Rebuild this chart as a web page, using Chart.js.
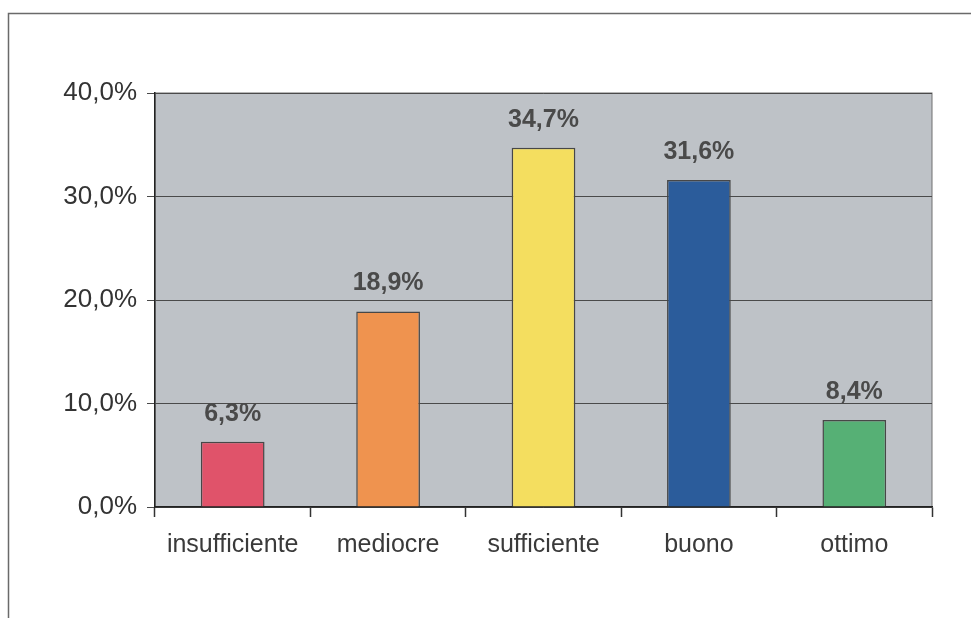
<!DOCTYPE html>
<html>
<head>
<meta charset="utf-8">
<script src="https://cdn.jsdelivr.net/npm/chart.js@4/dist/chart.umd.min.js"></script>
<style>
  html, body { margin: 0; padding: 0; background: #fff; }
  #wrap { width: 971px; height: 618px; }
</style>
</head>
<body>
<div id="wrap"><canvas id="chartVoti" width="971" height="618"></canvas></div>
<script>
const categorie = ["insufficiente", "mediocre", "sufficiente", "buono", "ottimo"];
const percentuali = [6.3, 18.9, 34.7, 31.6, 8.4];
const etichette = ["6,3%", "18,9%", "34,7%", "31,6%", "8,4%"];
const colori = ["#e0536a", "#ef934f", "#f4de5f", "#2b5c9b", "#56b075"];

// sfondo grigio dell'area del grafico + cornice esterna
const sfondo = {
  id: "sfondo",
  beforeDraw(chart) {
    const { ctx, chartArea: a } = chart;
    ctx.save();
    ctx.strokeStyle = "#6a6a6a";
    ctx.lineWidth = 1.5;
    ctx.strokeRect(8.5, 13.5, 2000, 2000);
    ctx.fillStyle = "#bec2c7";
    ctx.fillRect(a.left, a.top, a.right - a.left, a.bottom - a.top);
    ctx.strokeStyle = "#707070";
    ctx.lineWidth = 1;
    ctx.strokeRect(a.left, a.top, a.right - a.left, a.bottom - a.top);
    ctx.restore();
  },
};

// etichette sopra le barre
const valori = {
  id: "valori",
  afterDatasetsDraw(chart) {
    const { ctx } = chart;
    const meta = chart.getDatasetMeta(0);
    ctx.save();
    ctx.font = "bold 25px 'Liberation Sans', Arial, sans-serif";
    ctx.fillStyle = "#4a4a4a";
    ctx.textAlign = "center";
    ctx.textBaseline = "alphabetic";
    meta.data.forEach((bar, i) => {
      ctx.fillText(etichette[i], bar.x, bar.y - 21);
    });
    ctx.restore();
  },
};

document.addEventListener("DOMContentLoaded", () => {
  new Chart(document.querySelector("#chartVoti"), {
    type: "bar",
    data: {
      labels: categorie,
      datasets: [
        {
          data: percentuali,
          backgroundColor: colori,
          borderColor: "#474747",
          borderWidth: 1.5,
          barPercentage: 0.82,
          categoryPercentage: 0.5,
        },
      ],
    },
    options: {
      responsive: false,
      animation: false,
      layout: {
        padding: { left: 0, top: 93, right: 39, bottom: 51 },
      },
      scales: {
        x: {
          afterFit(scale) { scale.height = 60; },
          border: { color: "#222", width: 1.5 },
          grid: { offset: true, drawOnChartArea: false, tickLength: 10, color: "#333", tickWidth: 1.5 },
          ticks: {
            color: "#3a3a3a",
            padding: 13,
            font: { family: "'Liberation Sans', Arial, sans-serif", size: 25 },
          },
        },
        y: {
          min: 0,
          max: 40,
          afterFit(scale) { scale.width = 155; },
          border: { color: "#222", width: 1.5 },
          grid: { color: "#4a4a4a", lineWidth: 1, tickLength: 8, drawTicks: true },
          ticks: {
            stepSize: 10,
            color: "#333",
            padding: 10,
            font: { family: "'Liberation Sans', Arial, sans-serif", size: 26 },
            callback: (v) => v.toFixed(1).replace(".", ",") + "%",
          },
        },
      },
      plugins: {
        legend: { display: false },
        tooltip: { enabled: false },
      },
    },
    plugins: [sfondo, valori],
  });
});
</script>
</body>
</html>
